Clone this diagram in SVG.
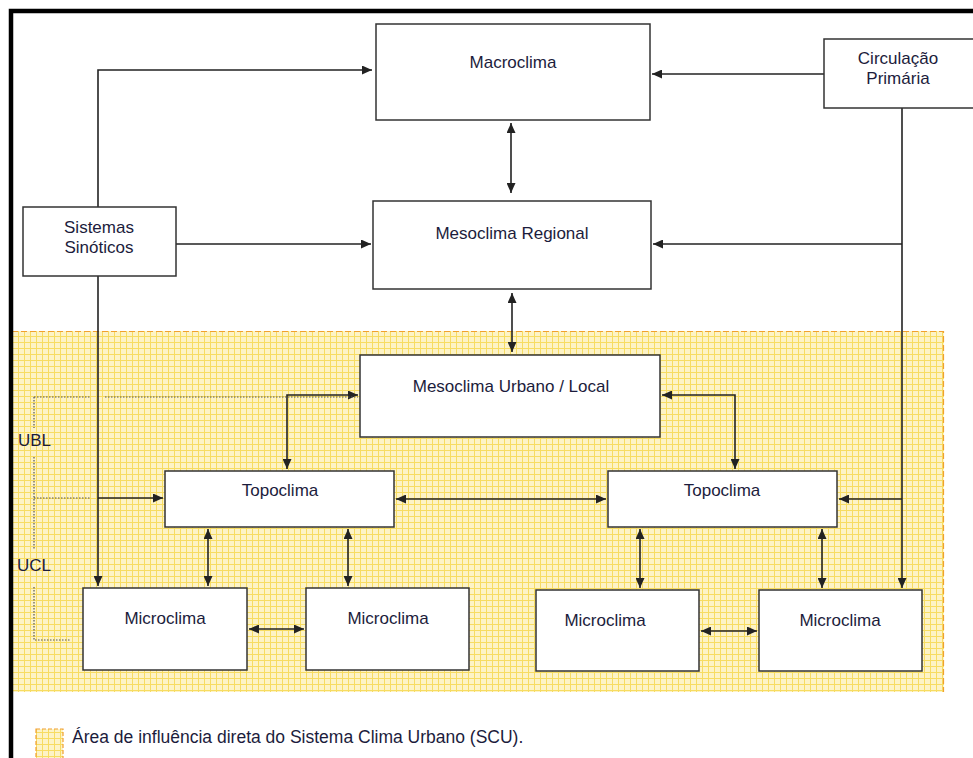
<svg xmlns="http://www.w3.org/2000/svg" width="973" height="758" viewBox="0 0 973 758">
<style>
.box{fill:#fff;stroke:#333;stroke-width:1.5}
.t{font-family:"Liberation Sans",Arial,sans-serif;font-size:17px;fill:#1c1c3c;text-anchor:middle}
.tl{font-family:"Liberation Sans",Arial,sans-serif;font-size:17px;fill:#1c1c3c}
.c{fill:none;stroke:#222;stroke-width:1.6}
.a{marker-end:url(#ah)}
.d{marker-start:url(#ah);marker-end:url(#ah)}
.dot{fill:none;stroke:#555;stroke-width:1.2;stroke-dasharray:1.5 1.5}
</style>
<defs>
<pattern id="grid" width="6" height="6" patternUnits="userSpaceOnUse">
<rect width="6" height="6" fill="#fdf3c6"/>
<path d="M0 0.5H6M0.5 0V6" stroke="#f7dc62" stroke-width="1"/>
</pattern>
<marker id="ah" markerUnits="userSpaceOnUse" markerWidth="10" markerHeight="9" refX="10" refY="4.5" orient="auto-start-reverse">
<path d="M0,0 L10,4.5 L0,9 z" fill="#222"/>
</marker>
</defs>
<rect width="973" height="758" fill="#fff"/>
<g id="scu-area">
<rect x="12" y="331" width="932" height="361" fill="url(#grid)"/>
<path d="M12 331.5H943.5V692" fill="none" stroke="#f0a030" stroke-width="1.2" stroke-dasharray="6 3"/>
</g>
<g id="frame">
<path d="M11 758V11H973" fill="none" stroke="#000" stroke-width="4.5"/>
</g>
<g id="connectors">
<path class="c a" d="M98 207V70H372"/>
<path class="c a" d="M824 74H652"/>
<path class="c d" d="M511 123V193"/>
<path class="c a" d="M176 244H371"/>
<path class="c a" d="M902 108V588"/>
<path class="c a" d="M902 244H653"/>
<path class="c a" d="M902 499H839"/>
<path class="c a" d="M98 276V586"/>
<path class="c a" d="M98 498H163"/>
<path class="c d" d="M512 293V352"/>
<path class="c d" d="M358 395H287V469"/>
<path class="c d" d="M662 395H735V469"/>
<path class="c d" d="M396 499H606"/>
<path class="c d" d="M208 529V586"/>
<path class="c d" d="M348 529V586"/>
<path class="c d" d="M640 529V588"/>
<path class="c d" d="M822 529V588"/>
<path class="c d" d="M249 629H304"/>
<path class="c d" d="M701 631H757"/>
<path class="dot" d="M34 397H90M105 397H358M34 397V428M34 457V550M34 498H90M34 587V640H70"/>
</g>
<g id="macroclima"><rect class="box" x="376" y="24" width="274" height="96"/><text class="t" x="513" y="68">Macroclima</text></g>
<g id="circulacao-primaria"><rect class="box" x="824" y="39" width="150" height="69"/><text class="t" x="898" y="64">Circulação</text><text class="t" x="898" y="84">Primária</text></g>
<g id="sistemas-sinoticos"><rect class="box" x="23" y="207" width="153" height="69"/><text class="t" x="99" y="233">Sistemas</text><text class="t" x="99" y="253">Sinóticos</text></g>
<g id="mesoclima-regional"><rect class="box" x="373" y="201" width="278" height="88"/><text class="t" x="512" y="239">Mesoclima Regional</text></g>
<g id="mesoclima-urbano"><rect class="box" x="360" y="355" width="300" height="82"/><text class="t" x="511" y="392">Mesoclima Urbano / Local</text></g>
<g id="topoclima-1"><rect class="box" x="165" y="471" width="229" height="56"/><text class="t" x="280" y="496">Topoclima</text></g>
<g id="topoclima-2"><rect class="box" x="608" y="471" width="229" height="56"/><text class="t" x="722" y="496">Topoclima</text></g>
<g id="microclima-1"><rect class="box" x="83" y="588" width="164" height="82"/><text class="t" x="165" y="624">Microclima</text></g>
<g id="microclima-2"><rect class="box" x="306" y="588" width="163" height="82"/><text class="t" x="388" y="624">Microclima</text></g>
<g id="microclima-3"><rect class="box" x="536" y="590" width="163" height="81"/><text class="t" x="605" y="626">Microclima</text></g>
<g id="microclima-4"><rect class="box" x="759" y="590" width="163" height="81"/><text class="t" x="840" y="626">Microclima</text></g>
<g id="labels"><text class="tl" x="18" y="446">UBL</text><text class="tl" x="17" y="571">UCL</text></g>
<g id="legend">
<rect x="36" y="729" width="27" height="32" fill="url(#grid)" stroke="#f0a030" stroke-width="1.2" stroke-dasharray="4 2"/>
<text class="tl" x="72" y="743" style="font-size:17.5px">Área de influência direta do Sistema Clima Urbano (SCU).</text>
</g>
</svg>
